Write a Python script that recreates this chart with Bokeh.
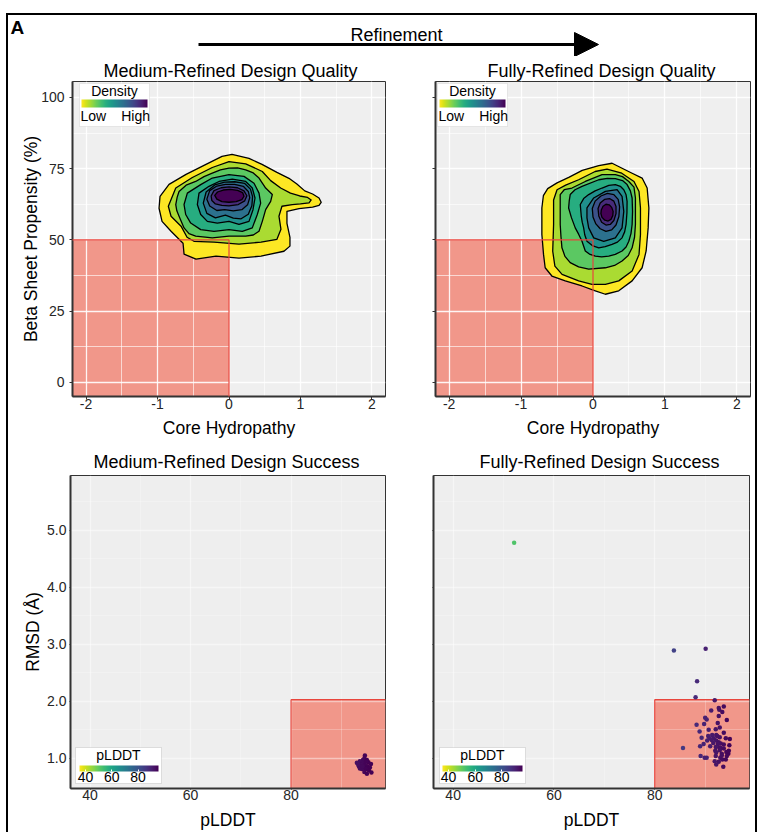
from bokeh.plotting import figure
from bokeh.layouts import column, row
from bokeh.models import (Range1d, FixedTicker, ColorBar, LinearColorMapper, BoxAnnotation,
                          Label, Arrow, NormalHead, ColumnDataSource)
from bokeh.palettes import Viridis256, Viridis9
from bokeh.transform import linear_cmap
from bokeh.embed import file_html
from bokeh.resources import INLINE

FONT = "Liberation Sans"

# ---------------- data ----------------
panel_label = "A"
arrow_label = "Refinement"
quality_titles = ["Medium-Refined Design Quality", "Fully-Refined Design Quality"]
success_titles = ["Medium-Refined Design Success", "Fully-Refined Design Success"]
hydro_label = "Core Hydropathy"
beta_label = "Beta Sheet Propensity (%)"
plddt_label = "pLDDT"
rmsd_label = "RMSD (Å)"

hydro_range = (-2.19, 2.19)
beta_range = (-5.0, 105.6)
plddt_range = (36.1, 98.8)
rmsd_range = (0.47, 5.96)

hydro_ticks = [-2, -1, 0, 1, 2]
hydro_tick_labels = ["-2", "-1", "0", "1", "2"]
hydro_minor = [-1.5, -0.5, 0.5, 1.5]
beta_ticks = [0, 25, 50, 75, 100]
beta_tick_labels = ["0", "25", "50", "75", "100"]
beta_minor = [12.5, 37.5, 62.5, 87.5]
plddt_ticks = [40, 60, 80]
plddt_tick_labels = ["40", "60", "80"]
plddt_minor = [50, 70, 90]
rmsd_ticks = [1, 2, 3, 4, 5]
rmsd_tick_labels = ["1.0", "2.0", "3.0", "4.0", "5.0"]
rmsd_minor = [1.5, 2.5, 3.5, 4.5, 5.5]

hydro_threshold = 0.0
beta_threshold = 50.0
plddt_threshold = 80.0
rmsd_threshold = 2.03

density_legend_title = "Density"
density_legend_ticks = [18, 82]
density_legend_labels = ["Low", "High"]
plddt_color_range = (35.5, 95.5)

# density contour outlines, outermost (lowest density) to innermost
medium_contour_x = [
    [-0.098, 0.042, 0.280, 0.462, 0.671, 0.839, 0.95, 1.06, 1.17, 1.26, 1.29, 1.26, 1.17, 0.98, 0.811, 0.811,
     0.853, 0.853, 0.769, 0.448, 0.140, -0.182, -0.462, -0.629, -0.643, -0.811, -0.937, -0.979, -0.965, -0.839,
     -0.601, -0.322],
    [-0.849, -0.745, -0.513, -0.234, 0.0, 0.234, 0.466, 0.583, 0.723, 0.86, 0.99, 1.10, 1.15, 1.12, 1.0, 0.885,
     0.741, 0.699, 0.727, 0.671, 0.448, 0.140, -0.210, -0.490, -0.587, -0.671, -0.811],
    [-0.745, -0.725, -0.699, -0.60, -0.466, -0.35, -0.234, -0.12, 0.0, 0.12, 0.234, 0.34, 0.420, 0.513, 0.606,
     0.583, 0.513, 0.466, 0.420, 0.34, 0.234, 0.0, -0.234, -0.466, -0.56, -0.629, -0.699, -0.73],
    [-0.629, -0.583, -0.396, -0.234, 0.0, 0.210, 0.350, 0.420, 0.443, 0.396, 0.326, 0.186, 0.0, -0.210, -0.396,
     -0.536, -0.606],
    [-0.443, -0.420, -0.280, -0.140, 0.046, 0.234, 0.326, 0.364, 0.336, 0.280, 0.140, 0.0, -0.164, -0.303, -0.396],
    [-0.36, -0.32, -0.20, -0.06, 0.08, 0.22, 0.30, 0.33, 0.32, 0.27, 0.17, 0.06, -0.05, -0.19, -0.31],
    [-0.31, -0.27, -0.17, -0.05, 0.08, 0.20, 0.27, 0.29, 0.26, 0.18, 0.06, -0.06, -0.17, -0.27],
    [-0.25, -0.21, -0.11, 0.0, 0.12, 0.21, 0.25, 0.22, 0.13, 0.0, -0.10, -0.19, -0.24],
    [-0.20, -0.16, -0.08, 0.02, 0.12, 0.19, 0.21, 0.18, 0.10, 0.0, -0.10, -0.17],
]
medium_contour_y = [
    [79.3, 80.0, 78.6, 76.5, 73.7, 71.6, 69.6, 67.2, 66.1, 64.7, 63.2, 62.1, 61.5, 61.0, 60.0, 55.8,
     50.9, 47.8, 46.0, 44.3, 43.6, 44.3, 43.2, 45.0, 48.8, 53.0, 56.5, 61.1, 65.3, 69.5,
     73.0, 76.5],
    [61.8, 68.2, 71.9, 75.4, 77.5, 76.7, 74.0, 70.8, 68.2, 66.4, 65.4, 64.9, 64.0, 63.0, 62.6, 62.4,
     61.8, 58.3, 53.7, 50.2, 49.2, 48.5, 49.2, 49.5, 50.9, 54.8, 58.3],
    [62.4, 65.0, 67.0, 69.2, 70.5, 72.2, 73.4, 74.6, 75.2, 75.3, 74.6, 73.5, 71.7, 68.2, 65.9,
     63.5, 60.6, 56.5, 53.0, 51.7, 51.3, 51.3, 50.7, 51.3, 52.2, 54.2, 58.3, 60.2],
    [62.4, 66.4, 69.4, 71.7, 72.9, 72.3, 69.9, 66.4, 62.9, 58.9, 54.2, 53.0, 53.6, 53.0, 53.6, 55.9, 58.9],
    [62.4, 66.4, 68.8, 70.5, 71.3, 70.5, 68.2, 64.7, 60.6, 56.5, 55.4, 56.5, 55.9, 56.5, 58.9],
    [62.9, 66.8, 69.3, 70.3, 70.4, 69.8, 67.8, 65.2, 62.0, 59.0, 57.4, 57.6, 58.7, 57.7, 59.3],
    [64.3, 67.3, 68.9, 69.5, 69.5, 68.8, 67.0, 64.8, 62.3, 60.6, 60.2, 60.6, 60.3, 61.9],
    [65.4, 67.3, 68.3, 68.6, 68.3, 67.2, 65.5, 63.7, 62.4, 61.9, 62.1, 62.6, 63.8],
    [65.6, 66.8, 67.5, 67.7, 67.4, 66.6, 65.3, 64.1, 63.4, 63.2, 63.4, 64.3],
]
full_contour_x = [
    [0.080, 0.265, 0.544, 0.683, 0.753, 0.777, 0.767, 0.739, 0.683, 0.544, 0.358, 0.172, 0.032, -0.153, -0.386,
     -0.572, -0.665, -0.688, -0.711, -0.711, -0.69, -0.63, -0.50, -0.33, -0.15],
    [-0.548, -0.548, -0.50, -0.38, -0.20, 0.03, 0.195, 0.40, 0.57, 0.64, 0.66, 0.66, 0.66, 0.64, 0.544, 0.358,
     0.172, -0.014, -0.20, -0.43, -0.53, -0.56],
    [-0.456, -0.456, -0.445, -0.432, -0.39, -0.317, -0.20, -0.060, 0.172, 0.30, 0.404, 0.49, 0.544, 0.578,
     0.590, 0.590, 0.57, 0.498, 0.41, 0.311, 0.126, -0.107, -0.293, -0.40],
    [-0.339, -0.330, -0.317, -0.25, -0.153, 0.080, 0.20, 0.311, 0.41, 0.474, 0.52, 0.544, 0.550, 0.544, 0.528,
     0.498, 0.46, 0.404, 0.31, 0.219, 0.12, 0.032, -0.05, -0.107, -0.153, -0.20, -0.247, -0.30],
    [-0.177, -0.13, -0.060, 0.03, 0.126, 0.22, 0.311, 0.38, 0.428, 0.46, 0.474, 0.472, 0.460, 0.44, 0.404, 0.34,
     0.265, 0.17, 0.080, -0.01, -0.084, -0.115, -0.130, -0.150, -0.163],
    [-0.084, 0.010, 0.172, 0.335, 0.404, 0.428, 0.404, 0.311, 0.149, 0.010, -0.060, -0.084],
    [-0.01, 0.03, 0.11, 0.20, 0.29, 0.35, 0.37, 0.36, 0.32, 0.26, 0.18, 0.10, 0.04, 0.0],
    [0.07, 0.10, 0.16, 0.23, 0.29, 0.32, 0.32, 0.29, 0.24, 0.18, 0.12, 0.08],
    [0.115, 0.14, 0.18, 0.225, 0.26, 0.28, 0.275, 0.25, 0.21, 0.165, 0.125, 0.11],
]
full_contour_y = [
    [76.1, 76.9, 73.4, 71.7, 68.2, 61.2, 54.2, 46.1, 40.2, 35.6, 32.1, 30.9, 32.1, 33.8, 35.6,
     37.3, 40.2, 44.9, 51.9, 61.2, 65.5, 68.0, 70.0, 72.0, 74.4],
    [55.4, 64.0, 67.6, 69.2, 71.1, 74.0, 74.8, 73.4, 70.5, 67.0, 61.2, 54.2, 51.9, 44.9, 39.1, 35.6,
     34.4, 34.4, 35.6, 37.9, 40.8, 46.0],
    [65.9, 55.4, 51.0, 47.2, 44.2, 42.0, 40.5, 39.7, 40.2, 41.0, 42.6, 44.5, 47.2, 51.0,
     55.4, 64.7, 68.5, 70.5, 72.2, 72.9, 72.9, 70.5, 68.2, 67.6],
    [61.2, 63.8, 65.9, 67.6, 68.8, 71.1, 71.6, 71.5, 70.8, 69.4, 67.2, 64.7, 60.0, 55.4, 52.2,
     49.5, 47.5, 46.1, 44.9, 44.3, 44.0, 44.3, 45.0, 46.1, 49.5, 52.0, 54.2, 57.8],
    [62.4, 64.5, 65.9, 67.2, 68.2, 69.1, 69.4, 68.8, 67.6, 65.8, 63.5, 59.5, 55.4, 52.8, 50.7, 49.2,
     48.4, 47.6, 47.2, 48.0, 49.5, 51.8, 54.2, 56.2, 58.3],
    [61.2, 64.7, 67.0, 67.6, 65.3, 60.0, 54.2, 50.7, 49.5, 50.7, 54.2, 57.7],
    [61.0, 63.6, 65.4, 66.3, 65.9, 64.2, 61.6, 58.2, 55.2, 53.5, 53.0, 53.9, 55.6, 58.0],
    [61.0, 62.9, 64.2, 64.5, 63.6, 61.7, 59.2, 56.8, 55.4, 55.2, 56.2, 58.4],
    [60.5, 61.8, 62.5, 62.3, 61.4, 60.0, 58.5, 57.2, 56.6, 56.9, 57.9, 59.2],
]

medium_plddt = [94.7, 94.6, 95.1, 94.3, 93.7, 93.1, 94.2, 95.4, 95.9, 93.9, 94.7, 95.2, 93.5, 94.4, 95.7,
                93.7, 94.1, 94.9, 95.5, 94.6, 96.0, 95.1, 93.3, 94.9, 94.2]
medium_rmsd = [1.05, 1.00, 0.97, 0.97, 0.95, 0.92, 0.92, 0.93, 0.90, 0.88, 0.88, 0.86, 0.86, 0.84, 0.84,
               0.82, 0.81, 0.81, 0.79, 0.76, 0.75, 0.73, 0.90, 0.94, 0.86]

full_plddt = [83.8, 90.1, 88.4, 88.1, 52.1,
              91.9, 93.7, 92.7, 92.8, 91.2, 93.4, 92.7, 90.0, 90.3, 94.3, 92.5, 89.8, 88.3, 92.9, 92.1,
              90.7, 88.9, 93.7, 91.4, 92.2, 90.6, 92.4, 92.9, 89.3, 90.9, 91.7, 91.3, 94.1, 94.9, 90.4,
              92.2, 92.7, 93.1, 89.7, 91.6, 92.5, 93.7, 94.8, 89.0, 91.0, 85.6, 92.1, 92.8, 93.1, 93.7,
              92.0, 92.9, 94.7, 94.2, 92.2, 93.3, 94.6, 89.1, 89.9, 90.3, 93.3, 94.3, 92.1, 93.0, 93.4,
              94.1, 91.9, 92.7, 92.2, 93.6]
full_rmsd = [2.89, 2.92, 2.35, 2.07, 4.78,
             2.02, 1.91, 1.88, 1.85, 1.84, 1.81, 1.74, 1.71, 1.68, 1.67, 1.62, 1.60, 1.59, 1.54, 1.51,
             1.50, 1.47, 1.45, 1.41, 1.41, 1.39, 1.39, 1.37, 1.36, 1.35, 1.35, 1.32, 1.35, 1.34, 1.31,
             1.31, 1.28, 1.26, 1.25, 1.27, 1.25, 1.24, 1.23, 1.21, 1.21, 1.18, 1.20, 1.19, 1.18, 1.17,
             1.13, 1.14, 1.13, 1.11, 1.10, 1.08, 1.08, 1.04, 1.01, 1.01, 1.05, 1.04, 1.04, 1.01, 0.98,
             0.98, 0.95, 0.94, 0.89, 0.85]

# ---------------- style ----------------
RED_FILL = "#F1978A"
RED_EDGE = "#E8453C"
AX_COL = "#333333"
LEVEL_COLORS = list(Viridis9)[::-1]


def make_panel(title, title_offset, title_standoff, xr, yr, fw, fh, mbl, mbr, mbt, mbb, bg):
    p = figure(frame_width=fw, frame_height=fh, x_range=Range1d(*xr), y_range=Range1d(*yr),
               toolbar_location=None, tools="", output_backend="svg",
               min_border_left=mbl, min_border_right=mbr, min_border_top=mbt, min_border_bottom=mbb,
               background_fill_color=bg, border_fill_color="white",
               outline_line_color=AX_COL, outline_line_width=1)
    p.title.text = title
    p.title.text_font = FONT
    p.title.text_font_size = "18px"
    p.title.text_font_style = "normal"
    p.title.text_color = "black"
    p.title.align = "left"
    p.title.offset = title_offset
    p.title.standoff = title_standoff
    return p


def style_axes(p, xt, xlab, xminor, yt, ylab, yminor, xtitle, ytitle, show_y, grid_alpha, minor_alpha):
    p.xaxis.ticker = FixedTicker(ticks=xt, minor_ticks=xminor)
    p.yaxis.ticker = FixedTicker(ticks=yt, minor_ticks=yminor)
    p.xaxis.major_label_overrides = {t: s for t, s in zip(xt, xlab)}
    if show_y:
        p.yaxis.major_label_overrides = {t: s for t, s in zip(yt, ylab)}
        p.yaxis.axis_label = ytitle
    else:
        p.yaxis.major_label_overrides = {t: "" for t in yt}
    p.xaxis.axis_label = xtitle
    for ax in (p.xaxis, p.yaxis):
        ax.axis_label_text_font = FONT
        ax.axis_label_text_font_size = "17.5px"
        ax.axis_label_text_font_style = "normal"
        ax.axis_label_text_color = "black"
        ax.major_label_text_font = FONT
        ax.major_label_text_font_size = "14px"
        ax.major_label_text_color = "#262626"
        ax.axis_line_color = AX_COL
        ax.axis_line_width = 2
        ax.major_tick_line_color = AX_COL
        ax.major_tick_line_width = 1
        ax.major_tick_in = 0
        ax.minor_tick_line_color = None
    for g in (p.xgrid, p.ygrid):
        g.grid_line_color = "white"
        g.grid_line_alpha = grid_alpha
        g.grid_line_width = 1.3
        g.minor_grid_line_color = "white"
        g.minor_grid_line_alpha = minor_alpha
        g.minor_grid_line_width = 0.7


def add_threshold_box(p, left=None, right=None, bottom=None, top=None):
    box = BoxAnnotation(left=left, right=right, bottom=bottom, top=top, fill_color=RED_FILL,
                        fill_alpha=1.0, line_color=None, level="image")
    p.add_layout(box)


def add_colorbar_legend(p, mapper, title, ticks, labels, box, bar_loc, bar_w, bar_h, pad, title_y,
                        tick_color, border_color):
    bl, bb, bw, bh = box
    p.add_layout(BoxAnnotation(left=bl, right=bl + bw, bottom=bb, top=bb + bh,
                               left_units="screen", right_units="screen",
                               bottom_units="screen", top_units="screen",
                               fill_color="white", fill_alpha=1.0, line_color=border_color, line_width=1))
    cb = ColorBar(color_mapper=mapper, orientation="horizontal", location=bar_loc,
                  width=bar_w, height=bar_h, title=None,
                  ticker=FixedTicker(ticks=ticks),
                  major_label_overrides={t: s for t, s in zip(ticks, labels)},
                  major_label_text_font=FONT, major_label_text_font_size="14px",
                  major_label_text_color="black", major_tick_line_color=tick_color, major_tick_in=2,
                  major_tick_out=0, minor_tick_line_color=None,
                  label_standoff=0, padding=pad, margin=0, bar_line_color=None,
                  border_line_color=None, background_fill_color=None)
    p.add_layout(cb, "center")
    p.add_layout(Label(x=bl + bw / 2, y=title_y, x_units="screen", y_units="screen", text=title,
                       text_font=FONT, text_font_size="14px", text_color="black",
                       text_align="center", text_baseline="alphabetic"))


# ---------------- header ----------------
HEADER_W = 747
HEADER_H = 41
header = figure(width=HEADER_W, height=HEADER_H, x_range=Range1d(0, HEADER_W), y_range=Range1d(0, HEADER_H),
                toolbar_location=None, tools="", output_backend="svg", min_border=0, title=None,
                x_axis_type=None, y_axis_type=None, outline_line_color=None,
                background_fill_color="white", border_fill_color="white")
header.grid.visible = False
header.add_layout(Label(x=2, y=29.3, text=panel_label, text_font=FONT,
                       text_font_size="19px", text_font_style="bold", text_color="black",
                       text_align="left", text_baseline="alphabetic"))
header.add_layout(Label(x=388, y=22, text=arrow_label, text_font=FONT,
                       text_font_size="18px", text_color="black",
                       text_align="center", text_baseline="alphabetic"))
header.add_layout(Arrow(x_start=190, y_start=12, x_end=590, y_end=12,
                        line_width=3, line_color="black",
                        end=NormalHead(size=24, fill_color="black", line_color="black", line_width=1)))

# ---------------- quality panels ----------------
density_mapper = LinearColorMapper(palette=Viridis256[::-1], low=0, high=100)
quality_specs = [
    (quality_titles[0], 31, medium_contour_x, medium_contour_y, 313, 64, 20, True, 7, 7),
    (quality_titles[1], 52, full_contour_x, full_contour_y, 315, 30, 5, False, 2, 2),
]
quality_panels = []
for title, toff, cx, cy, fw, mbl, mbr, show_y, box_x, bar_x in quality_specs:
    p = make_panel(title, toff, 2, hydro_range, beta_range, fw, 315, mbl, mbr, 25, 44, "#EFEFEF")
    style_axes(p, hydro_ticks, hydro_tick_labels, hydro_minor, beta_ticks, beta_tick_labels, beta_minor,
               hydro_label, beta_label, show_y, 0.9, 0.9)
    p.xaxis.major_tick_out = 3
    p.yaxis.major_tick_out = 3
    p.xaxis.major_label_standoff = -2
    p.xaxis.axis_label_standoff = 6
    p.yaxis.major_label_standoff = 4
    p.yaxis.axis_label_standoff = -3
    add_threshold_box(p, right=hydro_threshold, top=beta_threshold)
    p.patches(xs=cx, ys=cy, fill_color=LEVEL_COLORS, line_color="black", line_width=1.3,
              line_join="round")
    edge_src = ColumnDataSource(dict(
        x0=[hydro_range[0], hydro_threshold], y0=[beta_threshold, beta_range[0]],
        x1=[hydro_threshold, hydro_threshold], y1=[beta_threshold, beta_threshold]))
    er = p.segment(x0="x0", y0="y0", x1="x1", y1="y1", source=edge_src, line_color=RED_EDGE, line_width=1.2)
    er.level = "overlay"
    add_colorbar_legend(p, density_mapper, density_legend_title, density_legend_ticks, density_legend_labels,
                        box=(box_x, 270, 70, 43), bar_loc=(bar_x, 268), bar_w=66, bar_h=8, pad=2,
                        title_y=306, tick_color=None, border_color="#BDBDBD")
    quality_panels.append(p)

# ---------------- success panels ----------------
plddt_mapper = LinearColorMapper(palette=Viridis256[::-1], low=plddt_color_range[0], high=plddt_color_range[1])
success_specs = [
    (success_titles[0], 23, medium_plddt, medium_rmsd, 315, 62, 20, True, 5, 8, 79),
    (success_titles[1], 46, full_plddt, full_rmsd, 316, 28, 6, False, 6, 8, 80),
]
success_panels = []
for title, toff, px, py, fw, mbl, mbr, show_y, box_x, bar_x, bar_w in success_specs:
    p = make_panel(title, toff, 8, plddt_range, rmsd_range, fw, 313, mbl, mbr, 35, 41, "#EEEEEE")
    style_axes(p, plddt_ticks, plddt_tick_labels, plddt_minor, rmsd_ticks, rmsd_tick_labels, rmsd_minor,
               plddt_label, rmsd_label, show_y, 0.45, 0.35)
    p.xaxis.major_tick_out = 1
    p.yaxis.major_tick_out = 1
    p.xaxis.major_label_standoff = -3
    p.xaxis.axis_label_standoff = 7
    p.yaxis.major_label_standoff = 0
    p.yaxis.axis_label_standoff = 1
    add_threshold_box(p, left=plddt_threshold, top=rmsd_threshold)
    edge_src = ColumnDataSource(dict(
        x0=[plddt_threshold, plddt_threshold], y0=[rmsd_threshold, rmsd_range[0]],
        x1=[plddt_range[1], plddt_threshold], y1=[rmsd_threshold, rmsd_threshold]))
    p.segment(x0="x0", y0="y0", x1="x1", y1="y1", source=edge_src, line_color=RED_EDGE, line_width=1.2)
    src = ColumnDataSource(dict(plddt=px, rmsd=py))
    p.scatter(x="plddt", y="rmsd", source=src, size=4.5, line_color=None,
              fill_color=linear_cmap("plddt", Viridis256[::-1], plddt_color_range[0], plddt_color_range[1]))
    add_colorbar_legend(p, plddt_mapper, plddt_label, plddt_ticks, plddt_tick_labels,
                        box=(box_x, 5, 86, 36), bar_loc=(bar_x, 3), bar_w=bar_w, bar_h=6, pad=1,
                        title_y=34, tick_color="white", border_color="#9E9E9E")
    success_panels.append(p)

layout = column(header, row(*quality_panels), row(*success_panels),
                styles={"border-top": "2px solid black", "border-left": "2px solid black",
                        "border-right": "2px solid black", "margin-top": "13px", "margin-left": "6px"})

open("out.html", "w").write(file_html(layout, INLINE))
